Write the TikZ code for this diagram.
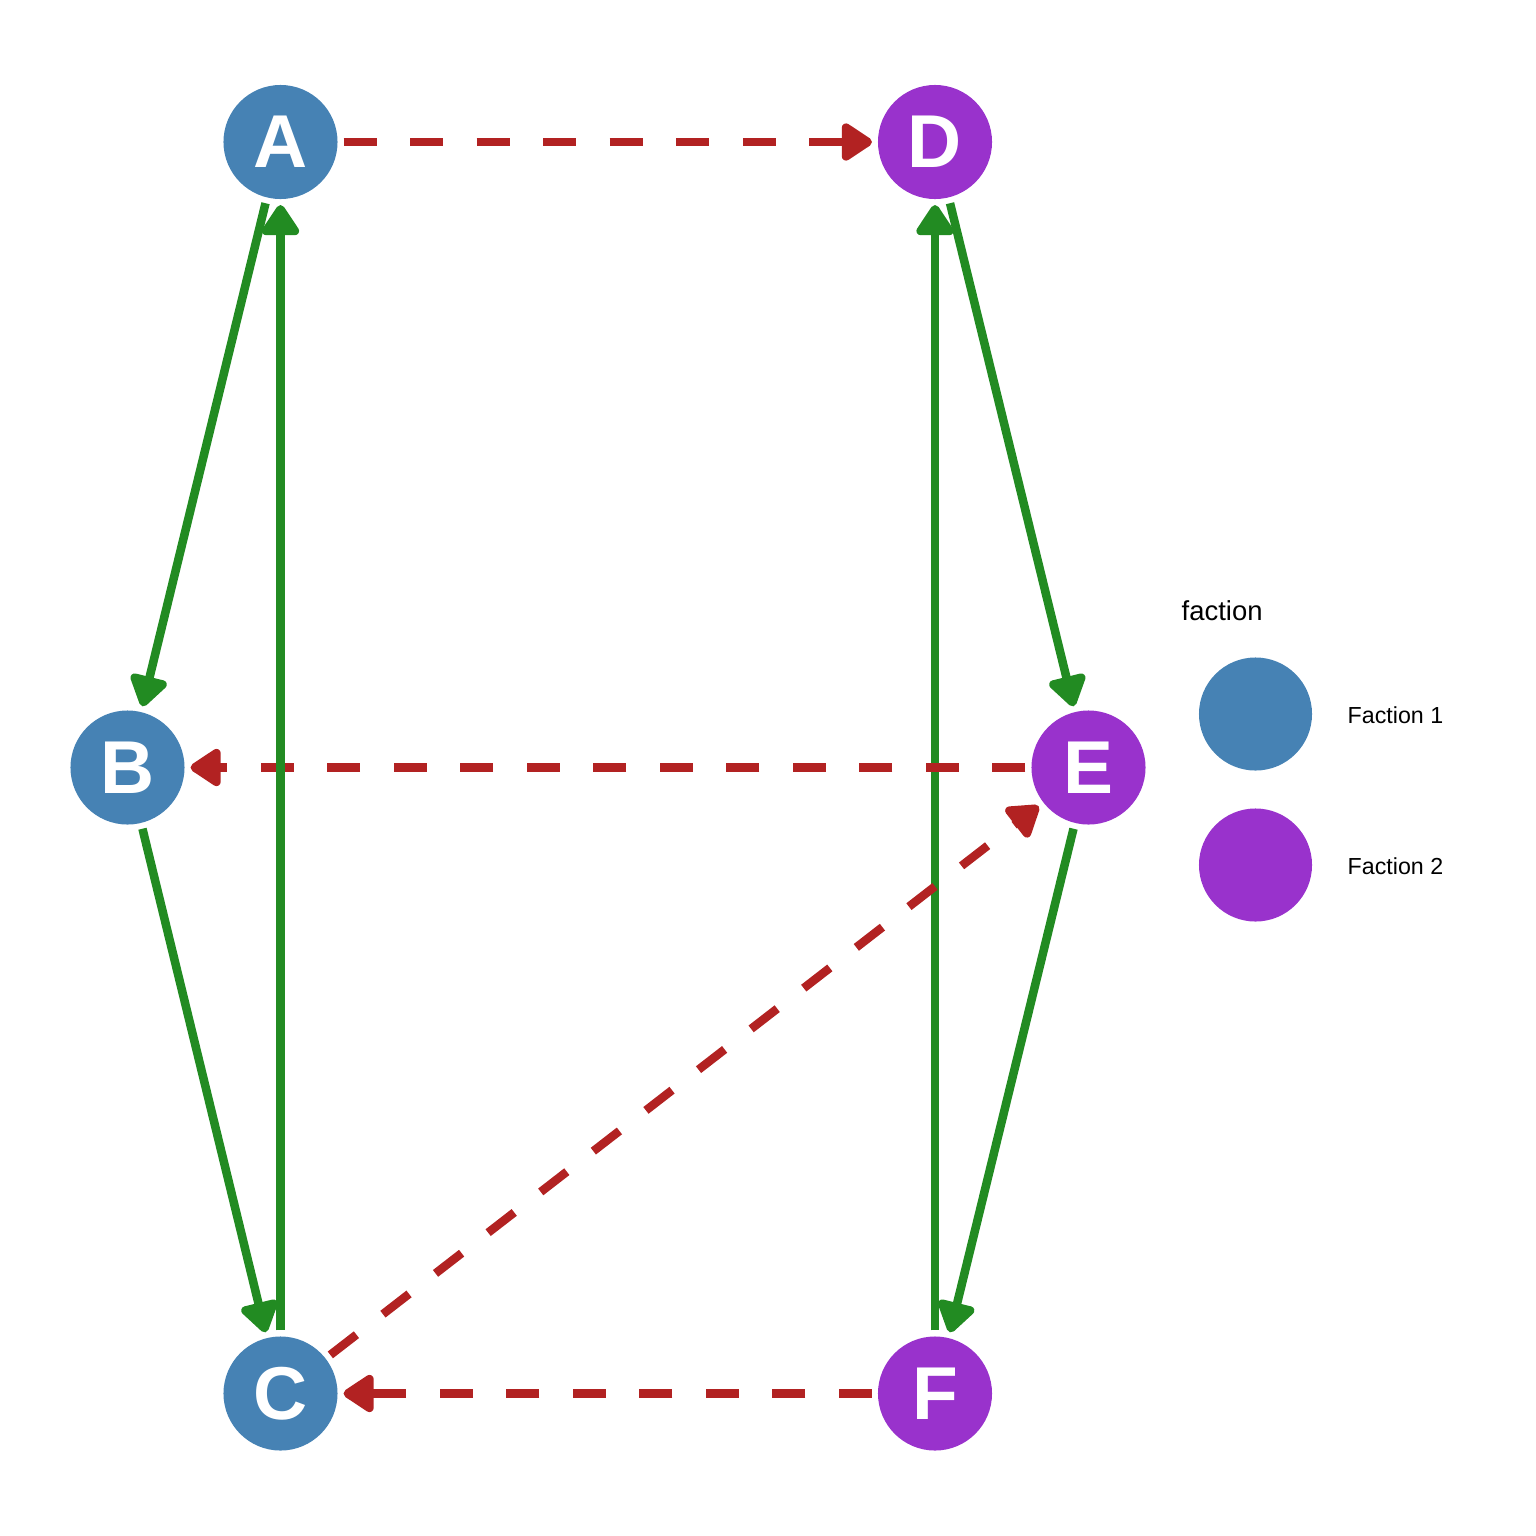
\documentclass[tikz,border=0pt]{standalone}
\usepackage{fontspec}
\setmainfont{Liberation Sans}
\usetikzlibrary{arrows.meta}
\definecolor{fone}{RGB}{70,130,180}
\definecolor{ftwo}{RGB}{153,50,204}
\definecolor{tie}{RGB}{34,139,34}
\definecolor{rival}{RGB}{178,34,34}
\begin{document}
\begin{tikzpicture}[x=0.01cm,y=-0.01cm,
  vert/.style={circle, minimum size=1.14cm, inner sep=0pt, outer sep=0.06cm, text=white,
    font=\fontsize{21.3}{21.3}\selectfont\bfseries},
  tip/.style={-{Triangle[length=0.34cm,width=0.42cm,round]}},
  ally/.style={draw=tie, line width=0.085cm, tip},
  enemy/.style={draw=rival, line width=0.085cm, dash pattern=on 0.33cm off 0.335cm, tip},
  legdot/.style={circle, minimum size=1.13cm, inner sep=0pt},
  legtext/.style={anchor=base west, inner sep=0pt, font=\fontsize{6.6}{7}\selectfont}]
\path[use as bounding box] (0,0) rectangle (1536,1536);
\node[vert, fill=fone] (A) at (280.5,142) {A};
\node[vert, fill=ftwo] (D) at (935,142) {D};
\node[vert, fill=fone] (B) at (127.5,767.5) {B};
\node[vert, fill=ftwo] (E) at (1088.5,767.5) {E};
\node[vert, fill=fone] (C) at (280.5,1393.5) {C};
\node[vert, fill=ftwo] (F) at (935,1393.5) {F};
\draw[enemy] (A) -- (D);
\draw[ally] (A) -- (B);
\draw[ally] (B) -- (C);
\draw[ally] (D) -- (E);
\draw[ally] (E) -- (F);
\draw[ally] (F) -- (D);
\draw[enemy] (E) -- (B);
\draw[ally] (C) -- (A);
\draw[enemy] (C) -- (E);
\draw[enemy] (F) -- (C);
\node[anchor=base west, inner sep=0pt, font=\fontsize{7.8}{9}\selectfont] (title) at (1181,620) {faction};
\node[legdot, fill=fone] (leg1) at (1255.5,714) {};
\node[legdot, fill=ftwo] (leg2) at (1255.5,865) {};
\node[legtext] (lab1) at (1347,723) {Faction 1};
\node[legtext] (lab2) at (1347,874) {Faction 2};
\end{tikzpicture}
\end{document}
